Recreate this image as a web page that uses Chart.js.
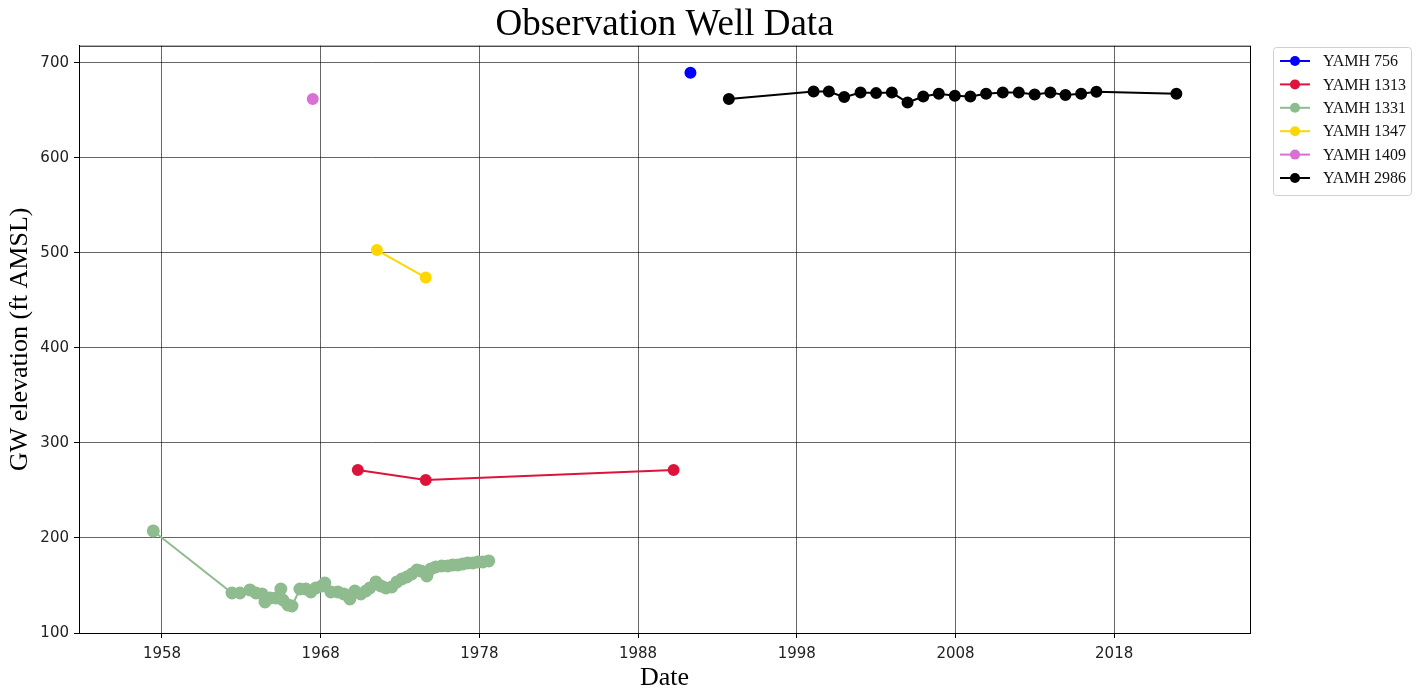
<!DOCTYPE html>
<html>
<head>
<meta charset="utf-8">
<title>Observation Well Data</title>
<script src="https://cdn.jsdelivr.net/npm/chart.js@4.4.1/dist/chart.umd.min.js"></script>
<style>
  html, body { margin: 0; padding: 0; background: #fff; }
  #wrap { width: 1424px; height: 694px; }
</style>
</head>
<body>
<div id="wrap"><canvas id="wellChart" width="1424" height="694"></canvas></div>
<script>
// decimal years / GW elevation (ft AMSL)
const yamh756Dates = [1991.3];
const yamh756Levels = [689.5];

const yamh1313Dates = [1970.34, 1974.62, 1990.24];
const yamh1313Levels = [271.6, 261.0, 271.6];

const yamh1331Dates = [1957.45, 1962.41, 1962.91, 1963.54, 1963.92, 1964.30, 1964.49, 1964.80, 1965.18, 1965.49,
    1965.62, 1965.93, 1966.19, 1966.69, 1967.07, 1967.38, 1967.70, 1968.08, 1968.26, 1968.64,
    1969.08, 1969.46, 1969.84, 1970.15, 1970.53, 1970.85, 1971.10, 1971.48, 1971.79, 1972.11,
    1972.48, 1972.80, 1973.11, 1973.43, 1973.74, 1974.06, 1974.31, 1974.69, 1974.94, 1975.25,
    1975.63, 1976.01, 1976.32, 1976.64, 1976.95, 1977.27, 1977.58, 1977.90, 1978.21, 1978.59];
const yamh1331Levels = [207.4, 142.1, 142.1, 145.3, 142.1, 141.1, 132.6, 136.8, 136.8, 146.3,
    134.7, 129.5, 128.4, 146.3, 146.3, 143.2, 147.4, 149.5, 152.6, 143.2,
    143.2, 141.1, 135.8, 144.2, 141.1, 144.2, 147.4, 153.7, 149.5, 147.4,
    148.4, 153.7, 156.8, 158.9, 162.1, 166.3, 165.3, 160.0, 167.4, 169.5,
    170.5, 170.5, 171.6, 171.6, 172.6, 173.7, 173.7, 174.7, 174.7, 175.8];

const yamh1347Dates = [1971.54, 1974.62];
const yamh1347Levels = [503, 474];

const yamh1409Dates = [1967.5];
const yamh1409Levels = [662];

const yamh2986Dates = [1993.72, 1999.06, 2000.02, 2000.99, 2002.02, 2003.0, 2003.99, 2004.98, 2005.97, 2006.95,
    2007.96, 2008.94, 2009.93, 2010.98, 2011.99, 2012.99, 2013.98, 2014.93, 2015.92, 2016.88, 2021.92];
const yamh2986Levels = [661.8, 669.8, 669.8, 663.9, 668.7, 668.1, 668.7, 658.2, 664.5, 667.4,
    665.3, 664.5, 667.4, 668.7, 668.7, 666.7, 668.7, 666.0, 667.4, 669.5, 667.4];

const wellNames = ["YAMH 756", "YAMH 1313", "YAMH 1331", "YAMH 1347", "YAMH 1409", "YAMH 2986"];
const wellColors = ["#0000ff", "#dc143c", "#8fbc8f", "#ffd700", "#da70d6", "#000000"];
const wellDates = [yamh756Dates, yamh1313Dates, yamh1331Dates, yamh1347Dates, yamh1409Dates, yamh2986Dates];
const wellLevels = [yamh756Levels, yamh1313Levels, yamh1331Levels, yamh1347Levels, yamh1409Levels, yamh2986Levels];

const xTickYears = [1958, 1968, 1978, 1988, 1998, 2008, 2018];
const yTickValues = [100, 200, 300, 400, 500, 600, 700];

const serif = "'Liberation Serif', 'Times New Roman', serif";
const sans = "'DejaVu Sans', sans-serif";

function toPoints(dates, levels) {
    return dates.map((d, i) => ({ x: d, y: levels[i] }));
}

let datasets = wellNames.map((name, i) => ({
    label: name,
    data: toPoints(wellDates[i], wellLevels[i]),
    borderColor: wellColors[i],
    backgroundColor: wellColors[i],
    pointBackgroundColor: wellColors[i],
    pointBorderColor: wellColors[i],
    borderWidth: 2,
    pointRadius: i === 2 ? 5.5 : 5,
    pointHoverRadius: 5,
    tension: 0
}));

// frame round the plot + matplotlib-like legend box on the right
const framePlugin = {
    id: "frameAndLegend",
    afterDraw(chart) {
        let ctx = chart.ctx;
        let a = chart.chartArea;
        ctx.save();
        ctx.strokeStyle = "#000";
        ctx.lineWidth = 1;
        ctx.strokeRect(a.left + 0.5, a.top + 0.5, a.right - a.left, a.bottom - a.top);

        let bx = 1273, by = 47, bw = 138, bh = 148;
        ctx.beginPath();
        ctx.roundRect(bx + 0.5, by + 0.5, bw, bh, 3);
        ctx.fillStyle = "#fff";
        ctx.fill();
        ctx.strokeStyle = "#d0d0d0";
        ctx.stroke();

        ctx.font = "16px " + serif;
        ctx.textBaseline = "middle";
        ctx.textAlign = "left";
        chart.data.datasets.forEach((ds, i) => {
            let y = 61 + i * 23.4;
            ctx.strokeStyle = ds.borderColor;
            ctx.lineWidth = 2;
            ctx.beginPath();
            ctx.moveTo(1280, y);
            ctx.lineTo(1310, y);
            ctx.stroke();
            ctx.fillStyle = ds.borderColor;
            ctx.beginPath();
            ctx.arc(1295, y, 5, 0, Math.PI * 2);
            ctx.fill();
            ctx.fillStyle = "#111";
            ctx.fillText(ds.label, 1323, y + 1);
        });
        ctx.restore();
    }
};

let ctx = document.getElementById("wellChart").getContext("2d");
let wellChart = new Chart(ctx, {
    type: "line",
    data: { datasets: datasets },
    options: {
        responsive: false,
        animation: false,
        layout: { padding: { left: 0, top: 0, right: 174, bottom: 0 } },
        plugins: {
            legend: { display: false },
            tooltip: { enabled: false },
            title: {
                display: true,
                text: "Observation Well Data",
                fullSize: false,
                color: "#000",
                font: { family: serif, size: 37, weight: "normal", lineHeight: 1.1 },
                padding: { top: 5, bottom: 0 }
            }
        },
        scales: {
            x: {
                type: "linear",
                min: 1952.77,
                max: 2026.56,
                afterBuildTicks: s => { s.ticks = xTickYears.map(v => ({ value: v })); },
                afterFit: s => { s.height = 61; },
                grid: { color: "rgba(0,0,0,0.6)", lineWidth: 1, tickLength: 5, tickColor: "#000" },
                border: { color: "#000", width: 1 },
                ticks: {
                    color: "#222",
                    font: { family: sans, size: 15 },
                    padding: 7,
                    maxRotation: 0,
                    callback: v => String(v)
                },
                title: {
                    display: true,
                    text: "Date",
                    color: "#000",
                    font: { family: serif, size: 26, lineHeight: 1.2 },
                    padding: { top: 0, bottom: 0 }
                }
            },
            y: {
                type: "linear",
                min: 100,
                max: 718,
                afterBuildTicks: s => { s.ticks = yTickValues.map(v => ({ value: v })); },
                afterFit: s => { s.width = 79; },
                grid: { color: "rgba(0,0,0,0.6)", lineWidth: 1, tickLength: 5, tickColor: "#000" },
                border: { color: "#000", width: 1 },
                ticks: {
                    color: "#222",
                    font: { family: sans, size: 15 },
                    padding: 5,
                    callback: v => String(v)
                },
                title: {
                    display: true,
                    text: "GW elevation (ft AMSL)",
                    color: "#000",
                    font: { family: serif, size: 26, lineHeight: 1.2 },
                    padding: { top: 5, bottom: 0 }
                }
            }
        }
    },
    plugins: [framePlugin]
});
</script>
</body>
</html>
